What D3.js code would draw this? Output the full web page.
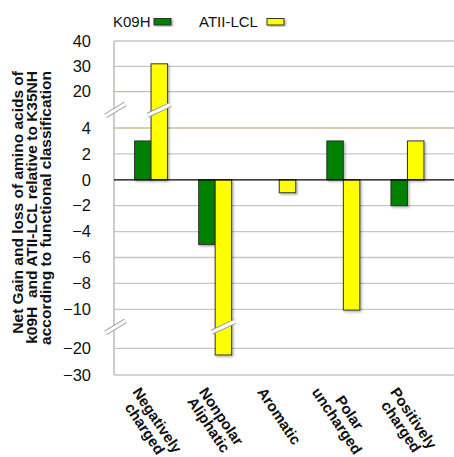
<!DOCTYPE html>
<html>
<head>
<meta charset="utf-8">
<script src="https://cdn.jsdelivr.net/npm/d3@7"></script>
<style>
  body { margin: 0; background: #fff; }
  svg { display: block; font-family: "Liberation Sans", Arial, sans-serif; }
</style>
</head>
<body>
<svg id="chart" width="454" height="457"></svg>
<script>
// Functional classes of amino acids
const categories = ["Negatively charged", "Nonpolar Aliphatic", "Aromatic", "Polar uncharged", "Positively charged"];
// Series
const seriesNames = ["K09H", "ATII-LCL"];
const seriesColors = ["#008000", "#ffff00"];
const k09hValues = [3, -5, 0, 3, -2];
const atiiValues = [31, -22.5, -1, -10.2, 3];
// Y axis ticks (broken axis)
const yTicks = [40, 30, 20, 4, 2, 0, -2, -4, -6, -8, -10, -20, -30];
const accentTicks = [20, 4];
// Values at which the axis is broken
const axisBreaks = [12, -14.5];

const svg = d3.select("#chart");
const left = 114, right = 454;

// Piecewise scale: compressed outer segments, expanded middle segment
const y = d3.scaleLinear()
  .domain([-30, -20, -10, 4, 20, 40])
  .range([375, 348.3, 309.3, 128, 91.7, 41]);

const x = d3.scaleBand().domain(categories).range([119, 439.5]).padding(0);
const xs = d3.scaleBand().domain(seriesNames)
  .range([x.bandwidth() / 2 - 16.5, x.bandwidth() / 2 + 16.5]).padding(0);

const defs = svg.append("defs");
const f = defs.append("filter").attr("id", "shadow")
  .attr("x", "-30%").attr("y", "-30%").attr("width", "160%").attr("height", "160%");
f.append("feDropShadow").attr("dx", 1.5).attr("dy", 1.5)
  .attr("stdDeviation", 1).attr("flood-color", "#000").attr("flood-opacity", 0.3);

// Gridlines
svg.append("g").selectAll("line").data(yTicks.filter(t => t !== 0)).join("line")
  .attr("x1", left).attr("x2", right)
  .attr("y1", d => y(d)).attr("y2", d => y(d))
  .attr("stroke", d => accentTicks.includes(d) ? "#cbbf96" : "#c6c6c6")
  .attr("stroke-width", 1.3);

// Left axis line
svg.append("line")
  .attr("x1", left).attr("x2", left)
  .attr("y1", y(40)).attr("y2", y(-30))
  .attr("stroke", "#bdbdbd").attr("stroke-width", 1.5);

// Tick labels
svg.append("g")
  .attr("transform", `translate(${left},0)`)
  .call(d3.axisLeft(y).tickValues(yTicks).tickSize(0).tickPadding(23).tickFormat(d3.format("d")))
  .call(g => g.select(".domain").remove())
  .selectAll("text")
  .attr("font-size", 16.5)
  .attr("font-family", "Liberation Sans, Arial, sans-serif")
  .attr("fill", "#111");

// Bars
const rows = categories.map((c, i) => ({ cat: c, vals: [k09hValues[i], atiiValues[i]] }));
const barData = [];
rows.forEach(r => r.vals.forEach((v, j) => barData.push({ cat: r.cat, s: seriesNames[j], v, color: seriesColors[j] })));

svg.append("g").selectAll("rect").data(barData.filter(d => d.v !== 0)).join("rect")
  .attr("x", d => x(d.cat) + xs(d.s))
  .attr("width", xs.bandwidth())
  .attr("y", d => Math.min(y(d.v), y(0)))
  .attr("height", d => Math.abs(y(d.v) - y(0)))
  .attr("fill", d => d.color)
  .attr("stroke", "#333")
  .attr("stroke-width", 1)
  .attr("filter", "url(#shadow)");

// Zero line
svg.append("line")
  .attr("x1", left).attr("x2", right)
  .attr("y1", y(0)).attr("y2", y(0))
  .attr("stroke", "#000").attr("stroke-width", 1.2);

// Break marks
function breakMark(cx, cy, half, angDeg) {
  const a = angDeg * Math.PI / 180;
  const dx = half * Math.cos(a), dy = half * Math.sin(a);
  const g = svg.append("g");
  g.append("line").attr("x1", cx - dx).attr("y1", cy + dy).attr("x2", cx + dx).attr("y2", cy - dy)
    .attr("stroke", "#9a9a9a").attr("stroke-width", 5);
  g.append("line").attr("x1", cx - dx).attr("y1", cy + dy).attr("x2", cx + dx).attr("y2", cy - dy)
    .attr("stroke", "#fff").attr("stroke-width", 3.2);
}
axisBreaks.forEach(b => breakMark(left + 1.5, y(b), 11.5, 31));
barData.forEach(d => {
  axisBreaks.forEach(b => {
    if ((b > 0 && d.v > b) || (b < 0 && d.v < b)) {
      breakMark(x(d.cat) + xs(d.s) + xs.bandwidth() / 2, y(b), 12.5, 25);
    }
  });
});

// Category labels, rotated; each block is lowered so its highest glyph sits just under the axis
const ang = 56, rad = ang * Math.PI / 180, lh = 15, fs = 15, capH = 0.72 * fs, labelTop = 386;
categories.forEach(c => {
  const lines = c.split(" ");
  const g = svg.append("g");
  const offs = lines.map((ln, i) => (i - (lines.length - 1) / 2) * lh + 0.35 * fs);
  const texts = lines.map((ln, i) => g.append("text")
    .text(ln)
    .attr("text-anchor", "middle")
    .attr("font-weight", "bold")
    .attr("font-size", fs)
    .attr("fill", "#111")
    .attr("x", 0)
    .attr("y", offs[i]));
  const top = d3.min(texts, (t, i) =>
    -(t.node().getComputedTextLength() / 2) * Math.sin(rad) + (offs[i] - capH) * Math.cos(rad));
  const cx = x(c) + x.bandwidth() / 2;
  const cy = labelTop - top;
  g.attr("transform", `translate(${cx},${cy}) rotate(${ang})`);
});

// Y axis title
const titleLines = ["Net Gain and loss of amino acids of", "k09H\u00a0 and ATII-LCL relative to K35NH", "according to functional classification"];
const titleBase = [23, 36.8, 50.6];
titleLines.forEach((t, i) => {
  svg.append("text")
    .attr("transform", `translate(${titleBase[i]},71) rotate(-90)`)
    .attr("text-anchor", "end")
    .attr("font-weight", "bold")
    .attr("font-size", 15.5)
    .attr("fill", "#111")
    .text(t);
});

// Legend
const legendItems = [
  { name: seriesNames[0], color: seriesColors[0], tx: 113, sx: 154 },
  { name: seriesNames[1], color: seriesColors[1], tx: 199, sx: 267 }
];
const lg = svg.append("g");
legendItems.forEach(d => {
  lg.append("text").attr("x", d.tx).attr("y", 27)
    .attr("font-size", 15).attr("fill", "#111").text(d.name);
  lg.append("rect").attr("x", d.sx).attr("y", 18.5).attr("width", 17).attr("height", 6.5)
    .attr("fill", d.color).attr("stroke", "#333").attr("stroke-width", 1)
    .attr("filter", "url(#shadow)");
});
</script>
</body>
</html>
